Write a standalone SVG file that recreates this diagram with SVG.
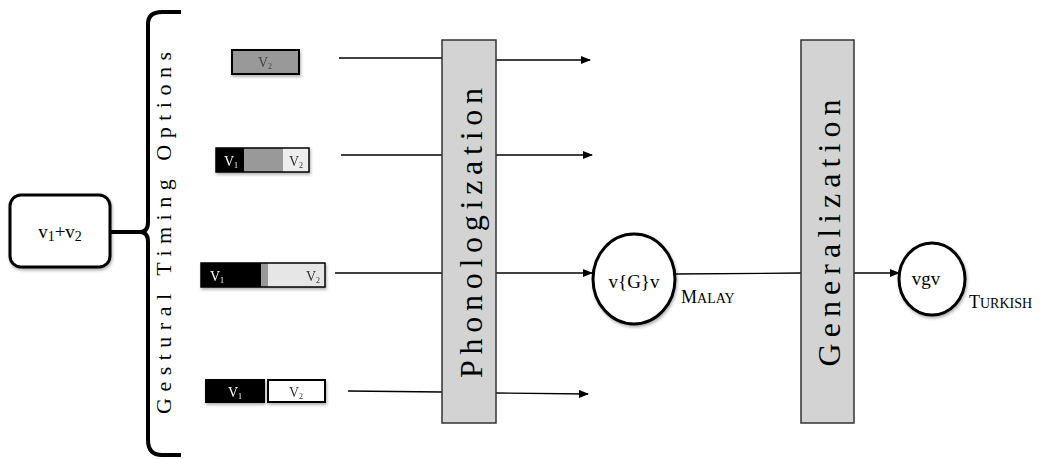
<svg xmlns="http://www.w3.org/2000/svg" width="1048" height="459" viewBox="0 0 1048 459">
<defs>
<marker id="ah" markerWidth="10" markerHeight="8" refX="9" refY="4" orient="auto" markerUnits="userSpaceOnUse">
<path d="M0,0 L10,4 L0,8 Z" fill="#000"/>
</marker>
<filter id="sh" x="-20%" y="-20%" width="140%" height="140%">
<feDropShadow dx="1" dy="2" stdDeviation="1.5" flood-color="#000" flood-opacity="0.3"/>
</filter>
</defs>
<style>
.serif{font-family:"Liberation Serif","Times New Roman",serif;fill:#000}
.bar{stroke:#000;stroke-width:2}
.vl{font-family:"Liberation Serif",serif;font-size:14px}
.sub{font-size:8px}
.conn{stroke:#000;stroke-width:1.3;fill:none}
.stage{fill:#d3d3d3;stroke:#333;stroke-width:1.5}
.node{fill:#fff;stroke:#000;stroke-width:3}
</style>
<rect width="1048" height="459" fill="#fff"/>

<g id="input">
<rect x="10" y="195" width="100" height="72" rx="11" class="node" filter="url(#sh)"/>
<text x="60" y="238" text-anchor="middle" class="serif" font-size="19">v<tspan font-size="14" dy="3">1</tspan><tspan dy="-3">+v</tspan><tspan font-size="14" dy="3">2</tspan></text>
</g>

<g id="brace">
<path d="M110,232 L140,232 Q148,232 148,222 L148,24 Q148,12 162,12 L181,12 M140,232 Q148,232 148,242 L148,440 Q148,455 162,455 L181,455" fill="none" stroke="#000" stroke-width="4"/>
<text transform="translate(171,233) rotate(-90)" text-anchor="middle" class="serif" font-size="22" textLength="362" lengthAdjust="spacing">Gestural Timing Options</text>
</g>

<g id="opt1" filter="url(#sh)">
<rect x="232" y="50" width="67" height="24" fill="#999" class="bar"/>
<text x="265" y="67" text-anchor="middle" class="vl" fill="#444">V<tspan class="sub" dy="2">2</tspan></text>
</g>

<g id="opt2" filter="url(#sh)">
<rect x="216" y="148" width="28" height="24" fill="#000"/>
<rect x="244" y="148" width="39" height="24" fill="#999"/>
<rect x="283" y="148" width="26" height="24" fill="#eee"/>
<rect x="216" y="148" width="93" height="24" fill="none" stroke="#000" stroke-width="1.5"/>
<text x="231" y="166" text-anchor="middle" class="vl" fill="#fff">V<tspan class="sub" dy="2">1</tspan></text>
<text x="296" y="166" text-anchor="middle" class="vl" fill="#333">V<tspan class="sub" dy="2">2</tspan></text>
</g>

<g id="opt3" filter="url(#sh)">
<rect x="201" y="263" width="60" height="24" fill="#000"/>
<rect x="261" y="263" width="7" height="24" fill="#999"/>
<rect x="268" y="263" width="57" height="24" fill="#e6e6e6"/>
<rect x="201" y="263" width="124" height="24" fill="none" stroke="#000" stroke-width="1.5"/>
<text x="217" y="281" text-anchor="middle" class="vl" fill="#fff">V<tspan class="sub" dy="2">1</tspan></text>
<text x="313" y="281" text-anchor="middle" class="vl" fill="#333">V<tspan class="sub" dy="2">2</tspan></text>
</g>

<g id="opt4" filter="url(#sh)">
<rect x="205" y="379" width="60" height="24" fill="#000"/>
<rect x="268" y="380" width="57" height="22" fill="#fff" stroke="#000" stroke-width="2"/>
<text x="235" y="397" text-anchor="middle" class="vl" fill="#fff">V<tspan class="sub" dy="2">1</tspan></text>
<text x="296" y="397" text-anchor="middle" class="vl" fill="#333">V<tspan class="sub" dy="2">2</tspan></text>
</g>

<g id="connectors">
<line x1="339" y1="58" x2="442" y2="58" class="conn"/>
<line x1="496" y1="60" x2="590" y2="60" class="conn" marker-end="url(#ah)"/>
<line x1="341" y1="155" x2="442" y2="155" class="conn"/>
<line x1="496" y1="155" x2="592" y2="155" class="conn" marker-end="url(#ah)"/>
<line x1="335" y1="273" x2="442" y2="273" class="conn"/>
<line x1="496" y1="273" x2="592" y2="273" class="conn" marker-end="url(#ah)"/>
<line x1="348" y1="391" x2="442" y2="392" class="conn"/>
<line x1="496" y1="393" x2="588" y2="394" class="conn" marker-end="url(#ah)"/>
<line x1="675" y1="274" x2="801" y2="273" class="conn"/>
<line x1="854" y1="273" x2="899" y2="273" class="conn" marker-end="url(#ah)"/>
</g>

<g id="phonologization">
<rect x="442" y="40" width="54" height="383" class="stage"/>
<text transform="translate(482,233) rotate(-90)" text-anchor="middle" class="serif" font-size="32" textLength="290" lengthAdjust="spacing">Phonologization</text>
</g>

<g id="generalization">
<rect x="801" y="40" width="53" height="383" class="stage"/>
<text transform="translate(840,233) rotate(-90)" text-anchor="middle" class="serif" font-size="32" textLength="267" lengthAdjust="spacing">Generalization</text>
</g>

<g id="malay">
<ellipse cx="634" cy="279" rx="41" ry="45" class="node" filter="url(#sh)"/>
<text x="634" y="288" text-anchor="middle" class="serif" font-size="19">v{G}v</text>
<text x="681" y="303" class="serif" font-size="18">M<tspan font-size="14">ALAY</tspan></text>
</g>

<g id="turkish">
<ellipse cx="932" cy="279" rx="33" ry="36" class="node" filter="url(#sh)"/>
<text x="926" y="285" text-anchor="middle" class="serif" font-size="19">vgv</text>
<text x="969" y="308" class="serif" font-size="18">T<tspan font-size="14">URKISH</tspan></text>
</g>
</svg>
